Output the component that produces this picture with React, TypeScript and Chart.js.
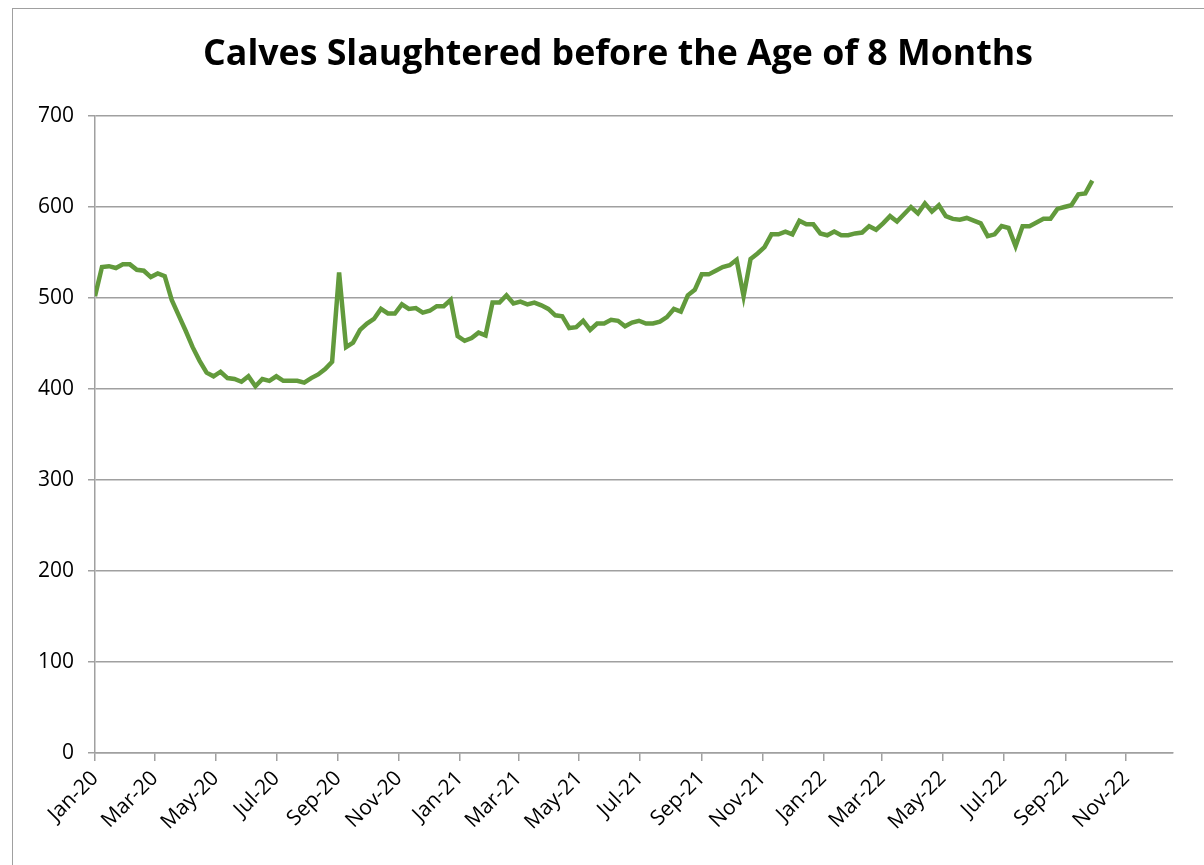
import React, { useEffect, useRef } from "react";
import { Chart, registerables } from "chart.js";

Chart.register(...registerables);

const TITLE = "Calves Slaughtered before the Age of 8 Months";

// weekly series, first week on the axis start (1 Jan 2020)
const FIRST_WEEK = [2020, 0, 1];
const calves = [
  502, 534, 535, 533, 537, 537, 531, 530, 523, 527,
  524, 498, 481, 464, 446, 431, 418, 414, 419, 412,
  411, 408, 414, 403, 411, 409, 414, 409, 409, 409,
  407, 412, 416, 422, 430, 528, 446, 451, 465, 472,
  477, 488, 483, 483, 493, 488, 489, 484, 486, 491,
  491, 498, 458, 453, 456, 462, 459, 495, 495, 503,
  494, 496, 493, 495, 492, 488, 481, 480, 467, 468,
  475, 465, 472, 472, 476, 475, 469, 473, 475, 472,
  472, 474, 479, 488, 485, 503, 509, 526, 526, 530,
  534, 536, 542, 502, 543, 549, 556, 570, 570, 573,
  570, 585, 581, 581, 571, 569, 573, 569, 569, 571,
  572, 579, 575, 582, 590, 584, 592, 600, 593, 604,
  595, 602, 590, 587, 586, 588, 585, 582, 568, 570,
  579, 577, 557, 579, 579, 583, 587, 587, 598, 600,
  602, 614, 615, 629,
];

const xTickLabels = [
  "Jan-20", "Mar-20", "May-20", "Jul-20", "Sep-20", "Nov-20",
  "Jan-21", "Mar-21", "May-21", "Jul-21", "Sep-21", "Nov-21",
  "Jan-22", "Mar-22", "May-22", "Jul-22", "Sep-22", "Nov-22",
];
const AXIS_END = [2022, 11, 18];
const yTicks = [0, 100, 200, 300, 400, 500, 600, 700];

const MONTHS = ["Jan", "Feb", "Mar", "Apr", "May", "Jun", "Jul", "Aug", "Sep", "Oct", "Nov", "Dec"];
const DAY = 86400000;
const base = Date.UTC(FIRST_WEEK[0], FIRST_WEEK[1], FIRST_WEEK[2]);
const dayOf = (y: number, m: number, d: number) => Math.round((Date.UTC(y, m, d) - base) / DAY);
const labelDay = (lab: string) => {
  const [mon, yy] = lab.split("-");
  return dayOf(2000 + Number(yy), MONTHS.indexOf(mon), 1);
};
const tickDays = xTickLabels.map(labelDay);
const axisMax = dayOf(AXIS_END[0], AXIS_END[1], AXIS_END[2]);

const GRID = "#a0a0a0";
const TICK_FONT = { family: "'Open Sans', sans-serif", size: 21 };

// shift the title box so it is centred where the original one is
const titleShift = {
  id: "titleShift",
  afterLayout(chart: any) {
    const t = chart.titleBlock;
    if (t) {
      t.left = 63;
      t.right = 1173;
    }
  },
};

export default function App() {
  const ref = useRef<HTMLCanvasElement | null>(null);

  useEffect(() => {
    if (!ref.current) return;
    const points = calves.map((v, i) => ({ x: i * 7, y: v }));
    const chart = new Chart(ref.current, {
      type: "line",
      data: {
        datasets: [
          {
            data: points,
            borderColor: "#629a3c",
            borderWidth: 4.5,
            pointRadius: 0,
            tension: 0,
            fill: false,
          },
        ],
      },
      plugins: [titleShift],
      options: {
        animation: false,
        responsive: false,
        maintainAspectRatio: false,
        layout: { padding: { left: 20, right: 31, top: 0, bottom: 0 } },
        plugins: {
          legend: { display: false },
          tooltip: { enabled: false },
          title: {
            display: true,
            text: TITLE,
            color: "#000",
            font: { family: "'Open Sans', sans-serif", size: 35.7, weight: "bold" },
            padding: { top: 33, bottom: 40.2 },
          },
        },
        scales: {
          x: {
            type: "linear",
            min: 0,
            max: axisMax,
            afterBuildTicks: (s: any) => {
              s.ticks = tickDays.map((v) => ({ value: v }));
            },
            afterFit: (s: any) => {
              s.height = 112;
            },
            ticks: {
              autoSkip: false,
              minRotation: 45,
              maxRotation: 45,
              color: "#000",
              font: TICK_FONT,
              padding: 5,
              callback: (_v: any, i: number) => xTickLabels[i],
            },
            grid: { drawOnChartArea: false, drawTicks: true, tickLength: 8, color: GRID, lineWidth: 1.5 },
            border: { color: GRID, width: 1.5 },
          },
          y: {
            min: 0,
            max: 700,
            afterBuildTicks: (s: any) => {
              s.ticks = yTicks.map((v) => ({ value: v }));
            },
            afterFit: (s: any) => {
              s.width = 75;
            },
            ticks: { color: "#000", font: TICK_FONT, padding: 14, callback: (v: any) => String(v) },
            grid: { color: GRID, lineWidth: 1.5, tickLength: 7 },
            border: { color: GRID, width: 1.5 },
          },
        },
      },
    });
    return () => chart.destroy();
  }, []);

  return (
    <div style={{ position: "fixed", left: 0, top: 0, width: 1204, height: 865, overflow: "hidden", background: "#fff" }}>
      <div
        style={{
          position: "absolute",
          left: 12,
          top: 8,
          width: 1260,
          height: 900,
          border: "1px solid #a0a0a0",
        }}
      />
      <canvas ref={ref} width={1204} height={865} style={{ position: "absolute", left: 0, top: 0 }} />
    </div>
  );
}
